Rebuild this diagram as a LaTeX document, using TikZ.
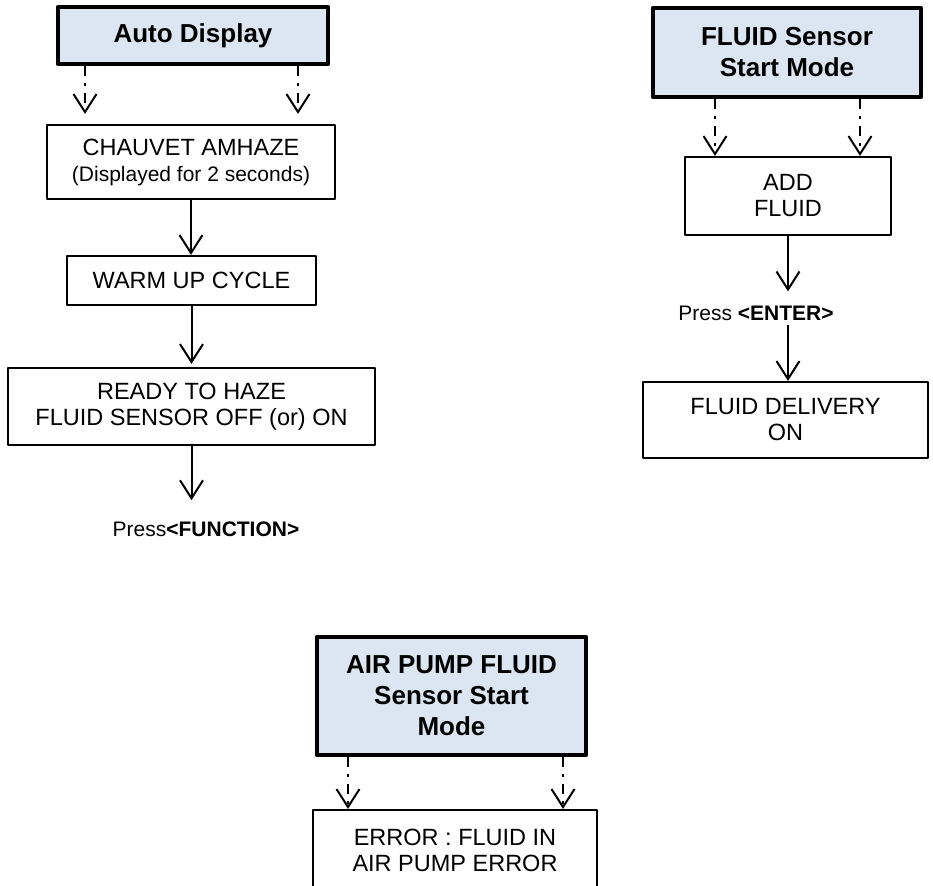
\documentclass[tikz,border=0pt]{standalone}
\usepackage{fontspec}
\setmainfont{Liberation Sans}
\usetikzlibrary{arrows.meta}
\definecolor{titlefill}{RGB}{220,230,242}

\begin{document}
\begin{tikzpicture}[x=1pt, y=-1pt, line join=round, >={Straight Barb[length=18pt,width=23pt]},
  modebox/.style={draw, line width=4.5pt, fill=titlefill, align=center, inner sep=0pt, font=\fontsize{26}{31}\selectfont\bfseries},
  infobox/.style={draw, line width=2.2pt, align=center, inner sep=0pt, font=\fontsize{23.5}{26}\selectfont},
  flow/.style={->, line width=2pt},
  flowdash/.style={flow, dash pattern=on 10pt off 7pt on 3pt off 7pt},
  presstext/.style={inner sep=0pt, font=\fontsize{21}{24}\selectfont}]
\useasboundingbox (0,0) rectangle (933,885);
\clip (0,0) rectangle (933,885);
% start modes
\node[modebox, minimum width=270pt, minimum height=57pt] (auto) at (193,35.5) {Auto Display};
\node[modebox, minimum width=268pt, minimum height=89pt] (fluid) at (787,52.5) {FLUID Sensor\\Start Mode};
\node[modebox, minimum width=269pt, minimum height=118pt] (airpump) at (451.5,696) {AIR PUMP FLUID\\Sensor Start\\Mode};
% auto display column
\node[infobox, minimum width=288pt, minimum height=74pt] (chauvet) at (191,162) {CHAUVET AMHAZE\\{\fontsize{21}{26}\selectfont(Displayed for 2 seconds)}};
\node[infobox, minimum width=249pt, minimum height=49pt] (warmup) at (191.5,280.5) {WARM UP CYCLE};
\node[infobox, minimum width=367pt, minimum height=77pt] (ready) at (191.5,406.5) {READY TO HAZE\\FLUID SENSOR OFF (or) ON};
\node[presstext, anchor=base] (pressfn) at (206,536) {Press\textbf{<FUNCTION>}};
\draw[flowdash, shorten >=10pt] ([xshift=-108pt]auto.south) -- ([xshift=-108pt]auto.south |- chauvet.north);
\draw[flowdash, shorten >=10pt] ([xshift=105pt]auto.south) -- ([xshift=105pt]auto.south |- chauvet.north);
\draw[flow] (chauvet.south) -- (chauvet.south |- warmup.north);
\draw[flow, shorten >=3pt] (warmup.south) -- (warmup.south |- ready.north);
\draw[flow, shorten >=21pt] (ready.south) -- (ready.south |- pressfn.north);
% fluid sensor column
\node[infobox, minimum width=206pt, minimum height=78pt] (add) at (788,196) {ADD\\FLUID};
\node[presstext, anchor=base] (pressenter) at (756,320) {Press \textbf{<ENTER>}};
\node[infobox, minimum width=285pt, minimum height=76pt] (delivery) at (785.5,420) {FLUID DELIVERY\\ON};
\draw[flowdash] ([xshift=-72pt]fluid.south) -- ([xshift=-72pt]fluid.south |- add.north);
\draw[flowdash] ([xshift=73pt]fluid.south) -- ([xshift=73pt]fluid.south |- add.north);
\draw[flow, shorten >=14pt] (add.south) -- (add.south |- pressenter.north);
\draw[flow, shorten <=5pt] (add.south |- pressenter.south) -- (delivery.north -| add.south);
% air pump column
\node[infobox, minimum width=284pt, minimum height=80pt] (error) at (455,850) {ERROR : FLUID IN\\AIR PUMP ERROR};
\draw[flowdash] ([xshift=-103.5pt]airpump.south) -- ([xshift=-103.5pt]airpump.south |- error.north);
\draw[flowdash] ([xshift=111.5pt]airpump.south) -- ([xshift=111.5pt]airpump.south |- error.north);
\end{tikzpicture}
\end{document}
